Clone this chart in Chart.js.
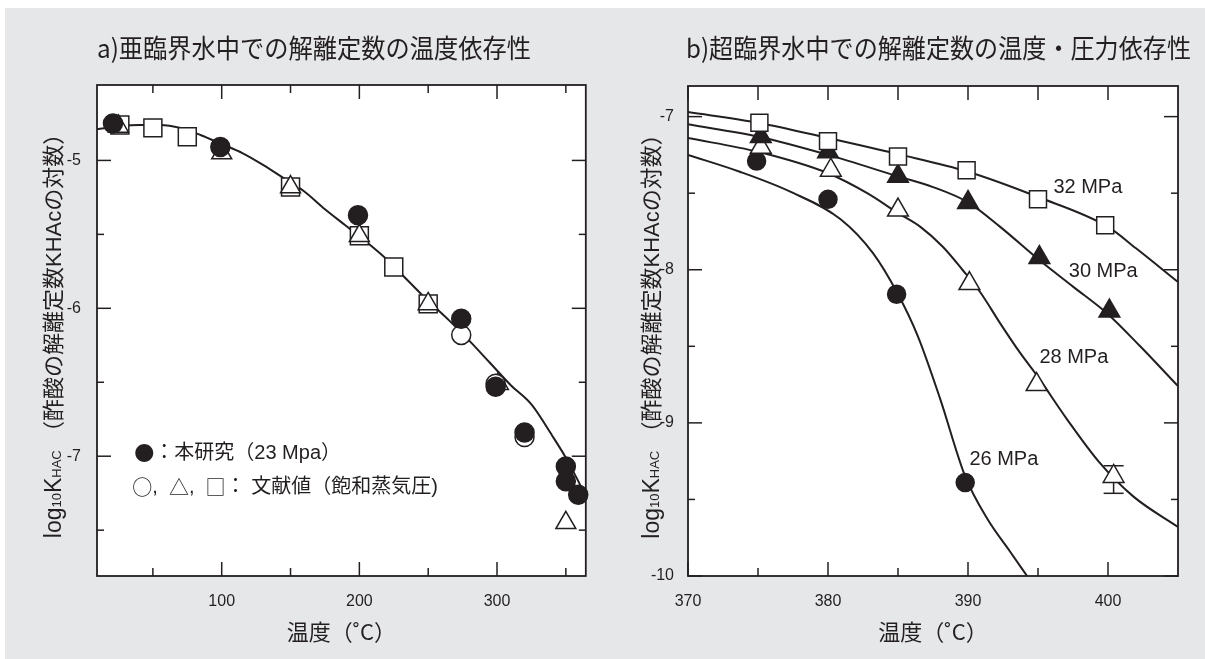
<!DOCTYPE html>
<html>
<head>
<meta charset="utf-8">
<script src="https://cdn.jsdelivr.net/npm/chart.js@4/dist/chart.umd.min.js"></script>
<style>
    body { margin: 0; width: 1205px; height: 659px; background: #fff; position: relative; overflow: hidden; }
    #bg { position: absolute; left: 5px; top: 8px; right: 0; bottom: 0; background: #e6e7e8; }
    #chartA { position: absolute; left: 0; top: 0; }
    #chartB { position: absolute; left: 600px; top: 0; }
</style>
</head>
<body>
<div id="bg"></div>
<canvas id="chartA" width="600" height="659"></canvas>
<canvas id="chartB" width="605" height="659"></canvas>
<script>
// texts
const titleA = "a)亜臨界水中での解離定数の温度依存性";
const titleB = "b)超臨界水中での解離定数の温度・圧力依存性";
const xTitle = "温度（˚C）";
const yTitleNote = "（酢酸の解離定数KHAcの対数）";
const pressureLabels = ["32 MPa", "30 MPa", "28 MPa", "26 MPa"];

// panel a: this work (23 MPa), filled circles
const aCircleX = [21, 99, 199, 274, 299, 320, 350, 350, 359];
const aCircleY = [-4.75, -4.91, -5.37, -6.07, -6.53, -6.84, -7.07, -7.17, -7.26];
// panel a: literature (saturated vapour pressure)
const aOpenCircleX = [274, 299, 320];
const aOpenCircleY = [-6.18, -6.51, -6.87];
const aTriangleX = [25, 100, 150, 200, 250, 301, 350];
const aTriangleY = [-4.77, -4.95, -5.18, -5.51, -5.97, -6.51, -7.45];
const aSquareX = [26, 50, 75, 150, 200, 225, 250];
const aSquareY = [-4.76, -4.78, -4.84, -5.18, -5.51, -5.72, -5.97];
// panel a: fitted curve
const aCurveX = [9.4, 25, 40, 55, 70, 85, 100, 115, 130, 145, 160, 175, 190, 205, 220, 235, 250, 265, 280, 295, 310, 325, 340, 350, 358, 365];
const aCurveY = [-4.79, -4.77, -4.76, -4.76, -4.78, -4.83, -4.89, -4.95, -5.03, -5.12, -5.21, -5.33, -5.44, -5.55, -5.67, -5.81, -5.95, -6.08, -6.22, -6.37, -6.52, -6.65, -6.86, -7.01, -7.15, -7.28];

// panel b: measured points per pressure
const b32X = [375.1, 380, 385, 389.9, 395, 399.8];
const b32Y = [-7.04, -7.16, -7.26, -7.35, -7.54, -7.71];
const b30X = [375.2, 380, 385, 390, 395.1, 400.1];
const b30Y = [-7.13, -7.23, -7.39, -7.56, -7.92, -8.27];
const b28X = [375.2, 380.2, 385, 390.1, 394.9, 400.4];
const b28Y = [-7.20, -7.35, -7.61, -8.09, -8.75, -9.35];
const b26X = [374.9, 380, 384.9, 389.8];
const b26Y = [-7.29, -7.54, -8.16, -9.39];
// panel b: error bar
const bErrX = [400.4];
const bErrLow = [-9.46];
const bErrHigh = [-9.28];
// panel b: curves
const b32CurveX = [370, 375, 380, 385, 390, 395, 400, 402, 405];
const b32CurveY = [-6.97, -7.04, -7.14, -7.245, -7.36, -7.525, -7.72, -7.86, -8.08];
const b30CurveX = [370, 375, 380, 385, 387.5, 390, 392.3, 395, 397.5, 400, 402.3, 405];
const b30CurveY = [-7.05, -7.13, -7.25, -7.39, -7.46, -7.56, -7.72, -7.93, -8.11, -8.29, -8.50, -8.76];
const b28CurveX = [370, 375, 380, 382.8, 385, 386.6, 388.2, 389.6, 390.9, 392.3, 393.7, 395, 397.1, 399.4, 401.8, 405];
const b28CurveY = [-7.14, -7.23, -7.37, -7.50, -7.63, -7.72, -7.85, -8.00, -8.15, -8.35, -8.54, -8.70, -8.98, -9.26, -9.48, -9.68];
const b26CurveX = [370, 373.7, 377.3, 380.9, 383.2, 385, 386.4, 388, 389.8, 391.4, 393, 394.6];
const b26CurveY = [-7.25, -7.36, -7.49, -7.67, -7.89, -8.16, -8.43, -8.84, -9.35, -9.63, -9.84, -10.05];

// ticks
const aXMajor = [100, 200, 300];
const aXMinor = [50, 150, 250, 350];
const aYMajor = [-5, -6, -7];
const aYMinor = [-5.5, -6.5, -7.5];
const bXMajor = [370, 380, 390, 400];
const bXMinor = [375, 385, 395];
const bYMajor = [-7, -8, -9, -10];
const bYMinor = [-7.5, -8.5, -9.5];


const ink = "#231f20";
const latin = "'Liberation Sans', Arial, sans-serif";
const cjk = "'Noto Sans CJK JP', sans-serif";
const mixed = "'Liberation Sans', 'Noto Sans CJK JP', sans-serif";

function pts(xs, ys) {
    return xs.map((x, i) => ({ x: x, y: ys[i] }));
}

function marker(data, style, radius, filled) {
    return {
        data: data,
        pointStyle: style,
        pointRadius: radius,
        pointBackgroundColor: filled ? ink : "#fff",
        pointBorderColor: ink,
        pointBorderWidth: 1.5,
        clip: false,
    };
}

function curve(data) {
    return {
        data: data,
        showLine: true,
        pointRadius: 0,
        borderColor: ink,
        borderWidth: 2,
        cubicInterpolationMode: "monotone",
    };
}

function line(ctx, x1, y1, x2, y2) {
    ctx.beginPath();
    ctx.moveTo(x1, y1);
    ctx.lineTo(x2, y2);
    ctx.stroke();
}

// draws a row of [text, font] pieces, returns the end x
function drawPieces(ctx, pieces, x, y) {
    pieces.forEach(p => {
        ctx.font = p[1];
        ctx.fillText(p[0], x, y);
        x += ctx.measureText(p[0]).width;
    });
    return x;
}

function framePlugin(opt) {
    return {
        id: "frame",
        beforeDraw: function(chart) {
            const a = chart.chartArea;
            const ctx = chart.ctx;
            ctx.save();
            ctx.fillStyle = "#fff";
            ctx.fillRect(a.left, a.top, a.right - a.left, a.bottom - a.top);
            ctx.restore();
        },
        beforeDatasetsDraw: function(chart) {
            if (!opt.errX) return;
            const ctx = chart.ctx;
            const xs = chart.scales.x, ys = chart.scales.y;
            ctx.save();
            ctx.strokeStyle = ink;
            ctx.lineWidth = 1.5;
            opt.errX.forEach((v, i) => {
                const px = xs.getPixelForValue(v);
                const lo = ys.getPixelForValue(opt.errLow[i]);
                const hi = ys.getPixelForValue(opt.errHigh[i]);
                line(ctx, px, lo, px, hi);
                line(ctx, px - 10, lo, px + 10, lo);
                line(ctx, px - 10, hi, px + 10, hi);
            });
            ctx.restore();
        },
        afterDraw: function(chart) {
            const a = chart.chartArea;
            const ctx = chart.ctx;
            const xs = chart.scales.x, ys = chart.scales.y;
            ctx.save();
            ctx.strokeStyle = ink;
            ctx.fillStyle = ink;

            // inward ticks on all four sides
            ctx.lineWidth = 1.5;
            opt.xMajor.forEach(v => {
                const px = xs.getPixelForValue(v);
                line(ctx, px, a.bottom, px, a.bottom - 14);
                line(ctx, px, a.top, px, a.top + 14);
            });
            opt.xMinor.forEach(v => {
                const px = xs.getPixelForValue(v);
                line(ctx, px, a.bottom, px, a.bottom - 8);
                line(ctx, px, a.top, px, a.top + opt.topMinor);
            });
            opt.yMajor.forEach(v => {
                const py = ys.getPixelForValue(v);
                line(ctx, a.left, py, a.left + 14, py);
                line(ctx, a.right, py, a.right - 14, py);
            });
            opt.yMinor.forEach(v => {
                const py = ys.getPixelForValue(v);
                line(ctx, a.left, py, a.left + 7, py);
                line(ctx, a.right, py, a.right - 7, py);
            });
            ctx.lineWidth = 1.8;
            ctx.strokeRect(a.left, a.top, a.right - a.left, a.bottom - a.top);

            // panel title, narrow gothic
            ctx.font = "26px " + cjk;
            ctx.textBaseline = "middle";
            ctx.textAlign = "left";
            const tw = ctx.measureText(opt.title).width;
            ctx.save();
            ctx.translate(opt.titleLeft, 48);
            ctx.scale(opt.titleWidth / tw, 1);
            ctx.fillText(opt.title, 0, 0);
            ctx.restore();

            // x axis title
            ctx.font = "22px " + cjk;
            ctx.textAlign = "center";
            ctx.fillText(xTitle, (a.left + a.right) / 2, 632);

            // y axis title with subscripts
            const yPieces = [
                ["log", "23px " + latin],
                ["10", "13px " + latin],
                ["K", "23px " + latin],
                ["HAC", "13px " + latin],
                ["  ", "13px " + latin],
                [yTitleNote, "22px " + mixed],
            ];
            let total = 0;
            yPieces.forEach(p => { ctx.font = p[1]; total += ctx.measureText(p[0]).width; });
            ctx.save();
            ctx.translate(opt.yTitleX, (a.top + a.bottom) / 2);
            ctx.rotate(-Math.PI / 2);
            ctx.textAlign = "left";
            ctx.textBaseline = "alphabetic";
            drawPieces(ctx, yPieces, -total / 2, 8);
            ctx.restore();

            // text inside the plot
            ctx.textAlign = "left";
            ctx.textBaseline = "middle";
            (opt.notes || []).forEach(n => {
                drawPieces(ctx, n.pieces, xs.getPixelForValue(n.x), ys.getPixelForValue(n.y));
            });
            ctx.restore();
        },
    };
}

function scalesFor(xMin, xMax, yMin, yMax, xMajor, yMajor, yWidth, yPad) {
    const tickFont = { family: latin, size: 16 };
    return {
        x: {
            type: "linear",
            min: xMin,
            max: xMax,
            grid: { display: false },
            border: { display: false },
            ticks: { color: ink, font: tickFont, padding: 8, maxRotation: 0 },
            afterBuildTicks: function(scale) {
                scale.ticks = xMajor.map(v => ({ value: v }));
            },
            afterFit: function(scale) {
                scale.height = 83;
            },
        },
        y: {
            type: "linear",
            min: yMin,
            max: yMax,
            grid: { display: false },
            border: { display: false },
            ticks: { color: ink, font: tickFont, padding: yPad },
            afterBuildTicks: function(scale) {
                scale.ticks = yMajor.map(v => ({ value: v }));
            },
            afterFit: function(scale) {
                scale.width = yWidth;
            },
        },
    };
}

const commonOptions = {
    responsive: false,
    animation: false,
    devicePixelRatio: 1,
    events: [],
};

const chartA = new Chart(document.getElementById("chartA"), {
    type: "scatter",
    data: {
        datasets: [
            marker(pts(aCircleX, aCircleY), "circle", 9.5, true),
            marker(pts(aOpenCircleX, aOpenCircleY), "circle", 9.5, false),
            marker(pts(aTriangleX, aTriangleY), "triangle", 11.5, false),
            marker(pts(aSquareX, aSquareY), "rect", 12.7, false),
            curve(pts(aCurveX, aCurveY)),
        ],
    },
    options: Object.assign({}, commonOptions, {
        layout: { padding: { left: 0, top: 85, right: 13, bottom: 0 } },
        plugins: { legend: { display: false }, tooltip: { enabled: false } },
        scales: scalesFor(9.4, 364.5, -7.81, -4.49, aXMajor, aYMajor, 97, 8),
    }),
    plugins: [framePlugin({
        xMajor: aXMajor, xMinor: aXMinor, yMajor: aYMajor, yMinor: aYMinor, topMinor: 8,
        title: titleA, titleLeft: 97, titleWidth: 434, yTitleX: 53,
        notes: [
            { x: 36.5, y: -6.98, pieces: [["●", "20px " + cjk], ["：本研究（23 Mpa）", "20px " + mixed]] },
            { x: 35, y: -7.21, pieces: [["○", "20px " + cjk], [",  ", "20px " + mixed], ["△", "20px " + cjk],
                                       [",  ", "20px " + mixed], ["□", "20px " + cjk], ["： 文献値（飽和蒸気圧)", "20px " + mixed]] },
        ],
    })],
});

const chartB = new Chart(document.getElementById("chartB"), {
    type: "scatter",
    data: {
        datasets: [
            marker(pts(b32X, b32Y), "rect", 12, false),
            marker(pts(b30X, b30Y), "triangle", 12, true),
            marker(pts(b28X, b28Y), "triangle", 12, false),
            marker(pts(b26X, b26Y), "circle", 9, true),
            curve(pts(b32CurveX, b32CurveY)),
            curve(pts(b30CurveX, b30CurveY)),
            curve(pts(b28CurveX, b28CurveY)),
            curve(pts(b26CurveX, b26CurveY)),
        ],
    },
    options: Object.assign({}, commonOptions, {
        layout: { padding: { left: 0, top: 86, right: 27, bottom: 0 } },
        plugins: { legend: { display: false }, tooltip: { enabled: false } },
        scales: scalesFor(370, 405, -10, -6.8, bXMajor, bYMajor, 88, 6),
    }),
    plugins: [framePlugin({
        xMajor: bXMajor, xMinor: bXMinor, yMajor: bYMajor, yMinor: bYMinor, topMinor: 14,
        title: titleB, titleLeft: 86, titleWidth: 505, yTitleX: 51,
        errX: bErrX, errLow: bErrLow, errHigh: bErrHigh,
        notes: [
            { x: 396.1, y: -7.46, pieces: [[pressureLabels[0], "20px " + latin]] },
            { x: 397.2, y: -8.01, pieces: [[pressureLabels[1], "20px " + latin]] },
            { x: 395.1, y: -8.57, pieces: [[pressureLabels[2], "20px " + latin]] },
            { x: 390.1, y: -9.24, pieces: [[pressureLabels[3], "20px " + latin]] },
        ],
    })],
});
</script>
</body>
</html>
